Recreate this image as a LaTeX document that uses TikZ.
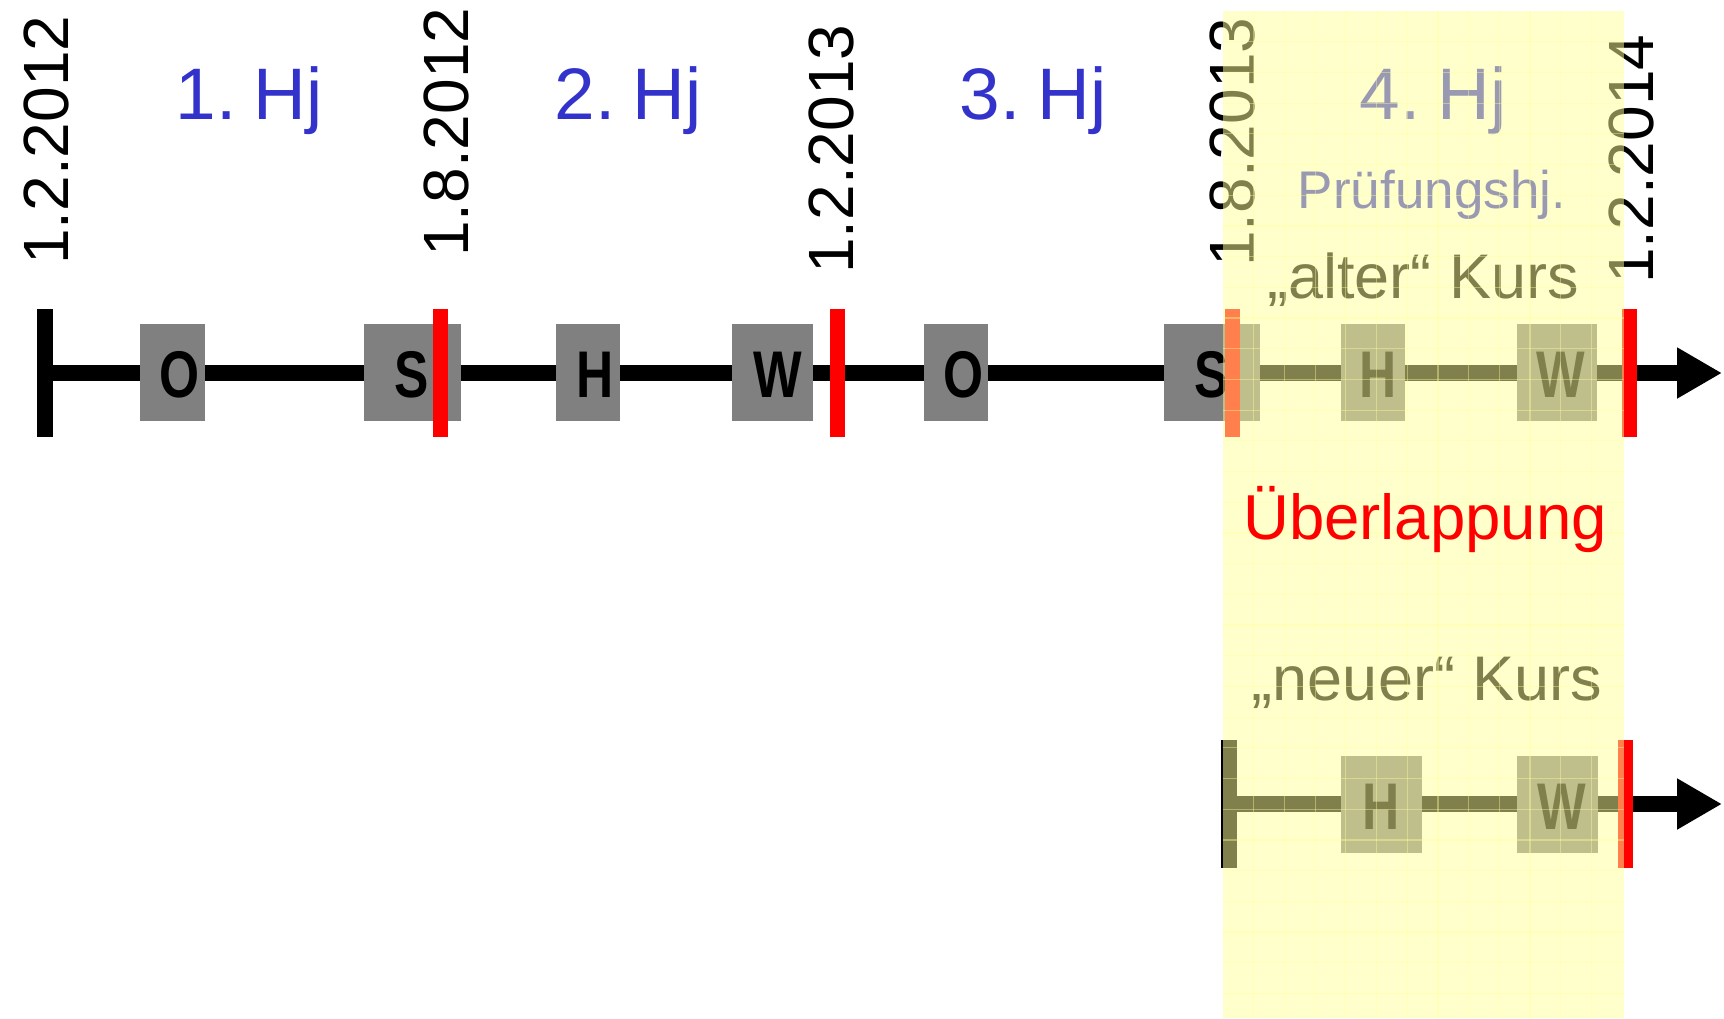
\documentclass[tikz,border=0pt]{standalone}
\usepackage{fontspec}
\setmainfont{Liberation Sans}
\usetikzlibrary{arrows.meta}
\definecolor{hjblue}{RGB}{51,51,204}
\definecolor{boxgray}{RGB}{128,128,128}
\definecolor{hlyellow}{RGB}{255,255,153}
\definecolor{markred}{RGB}{255,0,0}

\tikzset{
  axisline/.style={line width=16pt, -{Triangle[width=48pt,length=45pt]}},
  tbar/.style={fill=black, inner sep=0, minimum width=16pt, minimum height=128pt},
  cutline/.style={fill=markred, inner sep=0, minimum width=15pt, minimum height=128pt},
  evbox/.style={fill=boxgray, inner sep=0, minimum height=97pt},
  evletter/.style={anchor=base, inner sep=0, font=\fontsize{66}{66}\selectfont\bfseries},
  datelabel/.style={rotate=90, anchor=base west, inner sep=0, font=\fontsize{64}{64}\selectfont},
  hjlabel/.style={anchor=base, inner sep=0, text=hjblue, font=\fontsize{73}{73}\selectfont},
  kurslabel/.style={anchor=base, inner sep=0, font=\fontsize{63}{63}\selectfont},
}

\begin{document}
\begin{tikzpicture}[x=1pt,y=-1pt]
\useasboundingbox (0,0) rectangle (1724,1018);

% date labels
\node[datelabel] (d1) at (68,265) {1.2.2012};
\node[datelabel] (d2) at (468,257) {1.8.2012};
\node[datelabel] (d3) at (853,274) {1.2.2013};
\node[datelabel] (d4) at (1254,267) {1.8.2013};
\node[datelabel] (d5) at (1653,284) {1.2.2014};

% half-year labels
\node[hjlabel] (hj1) at (249,119) {1.\kern-3pt\ Hj};
\node[hjlabel] (hj2) at (628,119) {2.\kern-3pt\ Hj};
\node[hjlabel] (hj3) at (1033,119) {3.\kern-3pt\ Hj};
\node[hjlabel] (hj4) at (1433,119) {4.\kern-3pt\ Hj};
\node[anchor=base, inner sep=0, text=hjblue, font=\fontsize{53}{53}\selectfont] (pruef) at (1432,208) {Prüfungshj.};

\node[kurslabel] (alt) at (1423,298) {„alter“ Kurs};
\node[kurslabel] (neu) at (1427,700) {„neuer“ Kurs};

% upper time line
\node[tbar] (t1) at (45,373) {};
\coordinate (end1) at (1722,373);
\draw[axisline] (t1.center) -- (end1);

\node[evbox, minimum width=65pt] (bO1) at (172.5,372.5) {};
\node[evbox, minimum width=97pt] (bS1) at (412.5,372.5) {};
\node[evbox, minimum width=64pt] (bH1) at (588,372.5) {};
\node[evbox, minimum width=81pt] (bW1) at (772.5,372.5) {};
\node[evbox, minimum width=64pt] (bO2) at (956,372.5) {};
\node[evbox, minimum width=96pt] (bS2) at (1212,372.5) {};
\node[evbox, minimum width=64pt] (bH2) at (1373,372.5) {};
\node[evbox, minimum width=80pt] (bW2) at (1557,372.5) {};

\node[evletter] (lO1) at (180,397) {\scalebox{0.78}[1]{O}};
\node[evletter] (lS1) at (412,397) {\scalebox{0.78}[1]{S}};
\node[evletter] (lH1) at (595,397) {\scalebox{0.78}[1]{H}};
\node[evletter] (lW1) at (778,397) {\scalebox{0.78}[1]{W}};
\node[evletter] (lO2) at (964,397) {\scalebox{0.78}[1]{O}};
\node[evletter] (lS2) at (1212,397) {\scalebox{0.78}[1]{S}};
\node[evletter] (lH2) at (1378,397) {\scalebox{0.78}[1]{H}};
\node[evletter] (lW2) at (1561,397) {\scalebox{0.78}[1]{W}};

\node[cutline] (c1) at (440.5,373) {};
\node[cutline] (c2) at (837,373) {};
\node[cutline] (c3) at (1232.5,373) {};
\node[cutline] (c4) at (1629,373) {};

% lower time line
\node[tbar] (t2) at (1229,804) {};
\coordinate (end2) at (1722,804);
\draw[axisline] (t2.center) -- (end2);

\node[evbox, minimum width=81pt] (bH3) at (1381.5,804.5) {};
\node[evbox, minimum width=81pt] (bW3) at (1557.5,804.5) {};
\node[evletter] (lH3) at (1381,829) {\scalebox{0.78}[1]{H}};
\node[evletter] (lW3) at (1562,829) {\scalebox{0.78}[1]{W}};
\node[cutline] (c5) at (1625,804) {};

% translucent highlight of the overlapping half-year
\fill[hlyellow, opacity=0.5] (1223,11) rectangle (1624,1018);
\begin{scope}[hlyellow, opacity=0.4, line width=1.2pt]
  \foreach \i in {1,...,12} \draw (1223+\i*30.7,11) -- (1223+\i*30.7,1018);
  \foreach \j in {1,...,32} \draw (1223,11+\j*30.7) -- (1624,11+\j*30.7);
\end{scope}

\node[anchor=base, inner sep=0, text=markred, font=\fontsize{63.5}{63.5}\selectfont] (ueb) at (1425,539) {Überlappung};
\end{tikzpicture}
\end{document}
